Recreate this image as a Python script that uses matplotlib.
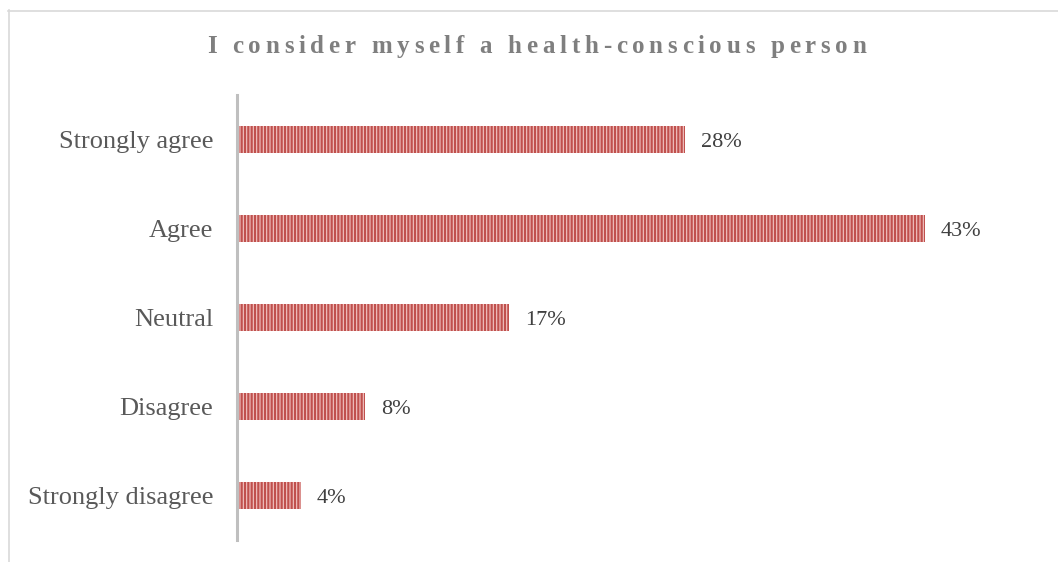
import matplotlib
matplotlib.use('Agg')
import matplotlib.pyplot as plt
from matplotlib.font_manager import FontProperties
from matplotlib.lines import Line2D

# survey responses, top to bottom
categories = ['Strongly agree', 'Agree', 'Neutral', 'Disagree', 'Strongly disagree']
shares = [28, 43, 17, 8, 4]  # percent of respondents
title = 'I consider myself a health-conscious person'

W, H, DPI = 1058, 562, 100
plt.rcParams['font.family'] = ['Liberation Serif', 'DejaVu Serif']
plt.rcParams['hatch.linewidth'] = 1.6

fig = plt.figure(figsize=(W / DPI, H / DPI), dpi=DPI)
fig.patch.set_facecolor('white')

# plot area in pixels: left 237, right 1037, top 95, bottom 540
ax = fig.add_axes([237 / W, (H - 540) / H, 800 / W, 445 / H])
ypos = list(range(len(categories)))
bars = ax.barh(ypos, shares, height=0.3, color='#F2C6C5', edgecolor='#C0504D',
               linewidth=0, hatch='|||||')
ax.set_yticks(ypos)
ax.set_yticklabels(categories, fontsize=19, color='#595959')
for lbl in ax.get_yticklabels():
    lbl.set_va('center_baseline')
ax.tick_params(axis='y', length=0, pad=17)
ax.set_xticks([])
ax.set_xlim(0, 50)
ax.set_ylim(len(categories) - 0.5, -0.5)
for side in ['top', 'right', 'bottom']:
    ax.spines[side].set_visible(False)
ax.spines['left'].set_color('#BFBFBF')
ax.spines['left'].set_linewidth(2.2)
for y, v in zip(ypos, shares):
    ax.annotate(f'{v}%', (v, y), xytext=(11.5, 0), textcoords='offset points',
                ha='left', va='center_baseline', fontsize=16, color='#404040')

# chart frame (left and top edges)
fig.add_artist(Line2D([8.5 / W, 8.5 / W], [0, (H - 10) / H],
                      transform=fig.transFigure, color='#D9D9D9', lw=1.2))
fig.add_artist(Line2D([8 / W, 1], [(H - 10.5) / H, (H - 10.5) / H],
                      transform=fig.transFigure, color='#D9D9D9', lw=1.2))

# letter-spaced title, placed character by character
tsize = 18
prop = FontProperties(family='Liberation Serif', weight='bold', size=tsize)
renderer = fig.canvas.get_renderer()
space_w = 0.25 * tsize * DPI / 72
widths = []
for c in title:
    if c == ' ':
        widths.append(space_w)
    else:
        w, h, d = renderer.get_text_width_height_descent(c, prop, ismath=False)
        widths.append(w)
target = 659
gap = (target - sum(widths)) / (len(title) - 1)
x = 536.5 - target / 2
for c, w in zip(title, widths):
    if c != ' ':
        fig.text(x / W, (H - 53) / H, c, fontproperties=prop, color='#7F7F7F',
                 ha='left', va='baseline')
    x += w + gap

fig.savefig('out.png', dpi=DPI)
